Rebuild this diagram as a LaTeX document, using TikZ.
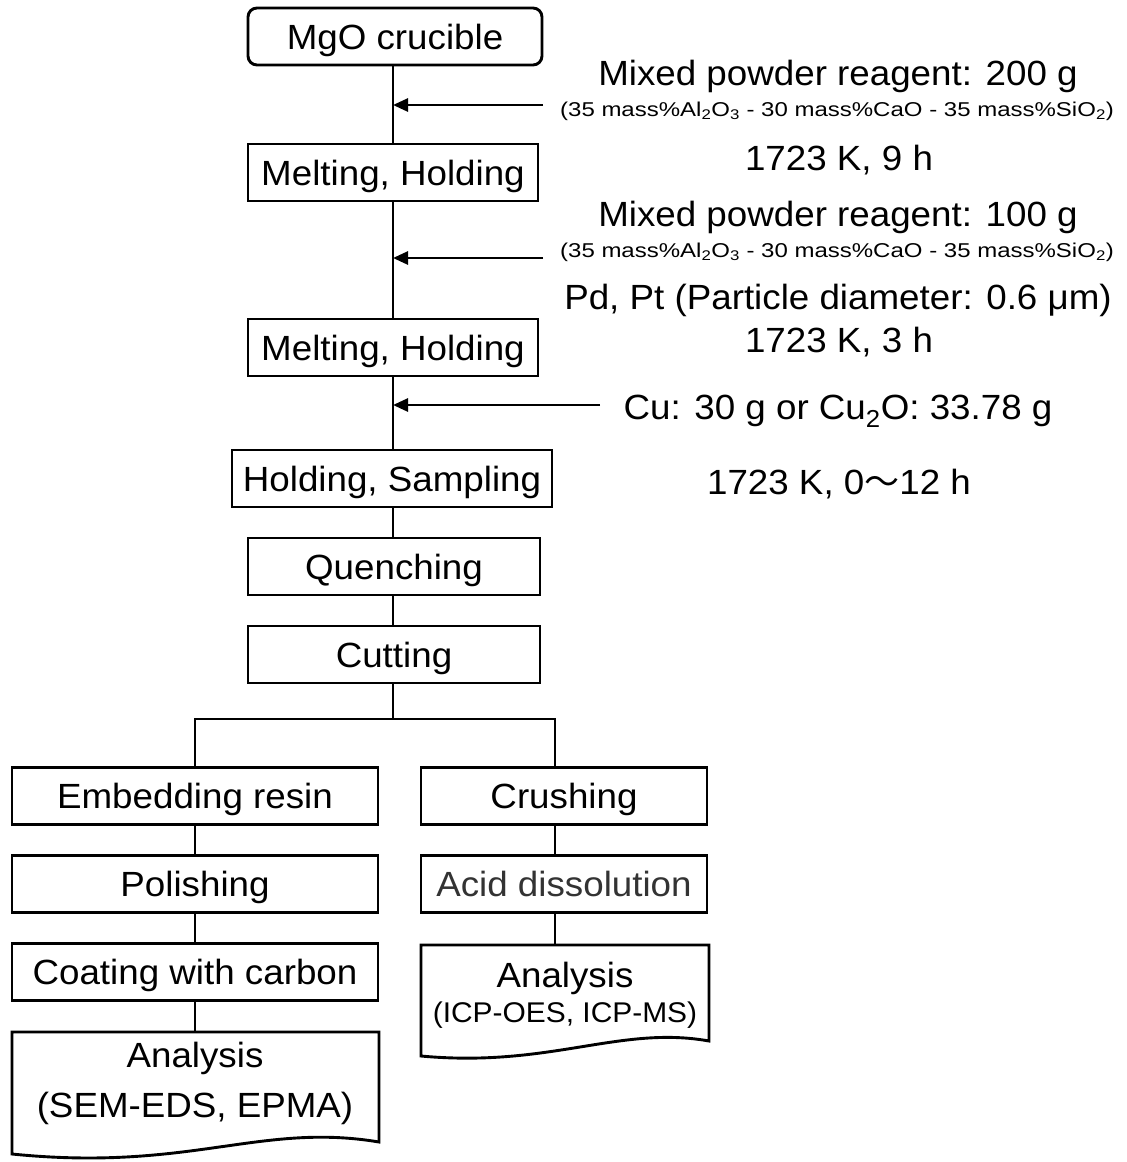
\documentclass[tikz,border=0pt]{standalone}
\usepackage{fontspec}
\setmainfont[FakeStretch=1.05]{Liberation Sans}
\newfontfamily\subfont[FakeStretch=1.2]{Liberation Sans}
\newfontfamily\cjk{Noto Sans CJK JP}
\usetikzlibrary{arrows.meta}

\begin{document}
\begin{tikzpicture}[x=1pt,y=-1pt,
  every node/.style={font=\fontsize{35}{42}\selectfont},
  boxline/.style={draw,line width=2.9pt},
  stepbox/.style={boxline,minimum height=57pt,inner sep=0pt,text height=25pt,text depth=0pt},
  link/.style={line width=2.7pt},
  feed/.style={line width=2.7pt,-{Triangle[length=15pt,width=13pt]}},
  note/.style={anchor=base,inner sep=0pt},
  subnote/.style={anchor=base,inner sep=0pt,font=\subfont\fontsize{20}{24}\selectfont},
  smallnote/.style={anchor=base,inner sep=0pt,font=\fontsize{28.5}{34}\selectfont}]

% canvas
\fill[white] (0,0) rectangle (1127,1162);
\useasboundingbox (0,0) rectangle (1127,1162);

% process steps on the main line
\node[stepbox,rounded corners=9pt,minimum width=294pt] (crucible) at (395,36.5) {MgO crucible};
\node[stepbox,minimum width=290pt] (melta) at (393,172.5) {Melting, Holding};
\node[stepbox,minimum width=290pt] (meltb) at (393,347.5) {Melting, Holding};
\node[stepbox,minimum width=320pt] (hold) at (392,478.5) {Holding, Sampling};
\node[stepbox,minimum width=292pt] (quench) at (394,566.5) {Quenching};
\node[stepbox,minimum width=292pt] (cut) at (394,654.5) {Cutting};

% two branches
\node[stepbox,minimum width=366pt] (embed) at (195,796) {Embedding resin};
\node[stepbox,minimum width=286pt] (crush) at (564,796) {Crushing};
\node[stepbox,minimum width=366pt] (polish) at (195,884) {Polishing};
\node[stepbox,minimum width=286pt,text=black!80] (acid) at (564,884) {Acid dissolution};
\node[stepbox,minimum width=366pt] (coat) at (195,972) {Coating with carbon};

% document shapes for the analyses
\draw[boxline] (12,1032) -- (379,1032) -- (379,1142)
  .. controls (260,1122) and (190,1172) .. (12,1154) -- cycle;
\node[note] (anal) at (195,1067) {Analysis};
\node[note] (analsub) at (195,1117) {(SEM-EDS, EPMA)};
\coordinate (doclt) at (195,1032);

\draw[boxline] (421,945) -- (709,945) -- (709,1041)
  .. controls (620,1025) and (550,1068) .. (421,1056) -- cycle;
\node[note] (anar) at (565,987) {Analysis};
\node[smallnote] (anarsub) at (565,1022) {(ICP-OES, ICP-MS)};
\coordinate (docrt) at (555,945);

% guide coordinates
\coordinate (trunk) at (393,0);
\coordinate (rx) at (555,0);
\coordinate (split) at (393,719);

% main line
\draw[link] (crucible.south -| trunk) -- (melta.north -| trunk);
\draw[link] (melta.south -| trunk) -- (meltb.north -| trunk);
\draw[link] (meltb.south -| trunk) -- (hold.north -| trunk);
\draw[link] (hold.south -| trunk) -- (quench.north -| trunk);
\draw[link] (quench.south -| trunk) -- (cut.north -| trunk);
\draw[link] (cut.south -| trunk) -- (split);
\draw[link] (embed.north) |- (split) -| (crush.north -| rx);

% branch lines
\draw[link] (embed.south) -- (polish.north);
\draw[link] (polish.south) -- (coat.north);
\draw[link] (coat.south) -- (doclt);
\draw[link] (crush.south -| rx) -- (acid.north -| rx);
\draw[link] (acid.south -| rx) -- (docrt);

% additions fed into the melt
\coordinate (fa) at (543,105);
\coordinate (fb) at (543,258);
\coordinate (fc) at (600,405);
\draw[feed] (fa) -- (fa -| trunk);
\draw[feed] (fb) -- (fb -| trunk);
\draw[feed] (fc) -- (fc -| trunk);

% conditions
\node[note] (rega) at (838,85) {Mixed powder reagent: 200 g};
\node[subnote] (compa) at (837,116) {(35 mass\%Al\textsubscript{2}O\textsubscript{3} - 30 mass\%CaO - 35 mass\%SiO\textsubscript{2})};
\node[note] (tempa) at (839,170) {1723 K, 9 h};
\node[note] (regb) at (838,226) {Mixed powder reagent: 100 g};
\node[subnote] (compb) at (837,257) {(35 mass\%Al\textsubscript{2}O\textsubscript{3} - 30 mass\%CaO - 35 mass\%SiO\textsubscript{2})};
\node[note] (metal) at (838,309) {Pd, Pt (Particle diameter: 0.6 μm)};
\node[note] (tempb) at (839,352) {1723 K, 3 h};
\node[note] (copper) at (838,419) {Cu: 30 g or Cu\textsubscript{2}O: 33.78 g};
\node[note] (tempc) at (839,494) {1723 K, 0{\cjk 〜}12 h};
\end{tikzpicture}
\end{document}
